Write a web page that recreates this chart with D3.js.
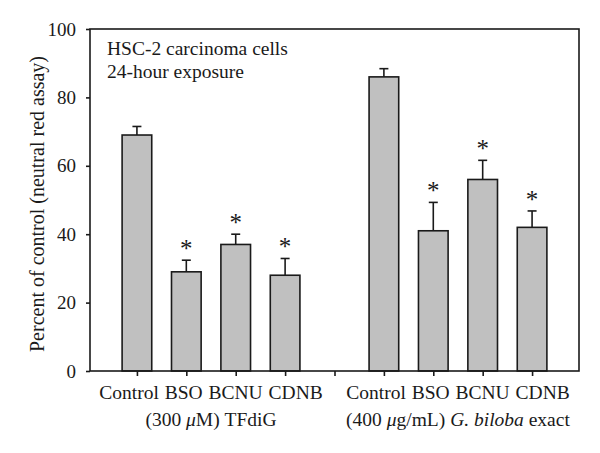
<!DOCTYPE html>
<html lang="en">
    <head>
        <meta charset="UTF-8">
        <title>Neutral red assay</title>
        <script type="text/javascript" src="https://cdnjs.cloudflare.com/ajax/libs/d3/7.8.5/d3.min.js"></script>
        <style>
            body { margin: 0; background: #fff; }
            svg text { font-family: "Liberation Serif", "DejaVu Serif", serif; fill: #1a1a1a; }
        </style>
    </head>
    <body>
        <div id="chart"></div>
        <script type="text/javascript">
            var SLOTS = ['c1', 'bso1', 'bcnu1', 'cdnb1', 'gap', 'c2', 'bso2', 'bcnu2', 'cdnb2'];
            var GROUP_LABELS = ['Control BSO BCNU CDNB', 'Control BSO BCNU CDNB'];
            var MEANS = [69, 29, 37, 28, null, 86, 41, 56, 42];
            var ERRORS = [2.5, 3.4, 3.0, 4.9, null, 2.4, 8.3, 5.6, 4.8];
            var STARRED = [false, true, true, true, false, false, true, true, true];
            var Y_TICKS = [0, 20, 40, 60, 80, 100];

            var WIDTH = 600, HEIGHT = 453;
            var margin = { top: 29, right: 21, bottom: 82, left: 90 };
            var innerW = WIDTH - margin.left - margin.right;
            var innerH = HEIGHT - margin.top - margin.bottom;

            var svg = d3.select('#chart').append('svg')
                .attr('width', WIDTH)
                .attr('height', HEIGHT);

            var g = svg.append('g')
                .attr('transform', 'translate(' + margin.left + ',' + margin.top + ')');

            var x = d3.scalePoint()
                .domain(SLOTS)
                .range([0, innerW])
                .padding(0.95);

            var y = d3.scaleLinear()
                .domain([0, 100])
                .range([innerH, 0]);

            var barW = x.step() * 0.6;

            var rows = SLOTS.map(function (k, i) {
                return { key: k, mean: MEANS[i], err: ERRORS[i], star: STARRED[i] };
            }).filter(function (d) { return d.mean !== null; });

            // error bars (drawn first, bar covers the lower part)
            var eb = g.selectAll('.err').data(rows).enter().append('g').attr('class', 'err');
            eb.append('line')
                .attr('x1', function (d) { return x(d.key); })
                .attr('x2', function (d) { return x(d.key); })
                .attr('y1', function (d) { return y(d.mean); })
                .attr('y2', function (d) { return y(d.mean + d.err); })
                .attr('stroke', '#1a1a1a').attr('stroke-width', 1.6);
            eb.append('line')
                .attr('x1', function (d) { return x(d.key) - 4.5; })
                .attr('x2', function (d) { return x(d.key) + 4.5; })
                .attr('y1', function (d) { return y(d.mean + d.err); })
                .attr('y2', function (d) { return y(d.mean + d.err); })
                .attr('stroke', '#1a1a1a').attr('stroke-width', 1.6);

            // bars
            g.selectAll('.bar').data(rows).enter().append('rect')
                .attr('class', 'bar')
                .attr('x', function (d) { return x(d.key) - barW / 2; })
                .attr('y', function (d) { return y(d.mean); })
                .attr('width', barW)
                .attr('height', function (d) { return innerH - y(d.mean); })
                .attr('fill', '#c0c0c0')
                .attr('stroke', '#1a1a1a')
                .attr('stroke-width', 1.6);

            // significance stars
            g.selectAll('.star').data(rows.filter(function (d) { return d.star; })).enter().append('text')
                .attr('class', 'star')
                .attr('x', function (d) { return x(d.key); })
                .attr('y', function (d) { return y(d.mean + d.err) - 3; })
                .attr('text-anchor', 'middle')
                .style('font-size', '25px')
                .text('*');

            // frame
            g.append('rect')
                .attr('width', innerW).attr('height', innerH)
                .attr('fill', 'none')
                .attr('stroke', '#1a1a1a')
                .attr('stroke-width', 1.6);

            // y axis
            var yAxis = g.append('g')
                .call(d3.axisLeft(y).tickValues(Y_TICKS).tickSize(4).tickPadding(10));
            yAxis.select('.domain').remove();
            yAxis.selectAll('line').attr('stroke', '#1a1a1a').attr('stroke-width', 1.6);
            yAxis.selectAll('text')
                .style('font-size', '19px')
                .attr('fill', '#1a1a1a');

            // x axis: tick marks only, labels set as one line per group
            var xAxis = g.append('g')
                .attr('transform', 'translate(0,' + innerH + ')')
                .call(d3.axisBottom(x).tickSize(5).tickFormat(''));
            xAxis.select('.domain').remove();
            xAxis.selectAll('line').attr('stroke', '#1a1a1a').attr('stroke-width', 1.6);

            var groupCenters = [(x('bso1') + x('bcnu1')) / 2, (x('bso2') + x('bcnu2')) / 2];

            g.selectAll('.glabel').data(GROUP_LABELS).enter().append('text')
                .attr('class', 'glabel')
                .attr('x', function (d, i) { return groupCenters[i]; })
                .attr('y', innerH + 28)
                .attr('text-anchor', 'middle')
                .style('font-size', '19.5px')
                .style('word-spacing', '1px')
                .text(function (d) { return d; });

            // group captions
            var cap1 = g.append('text')
                .attr('x', groupCenters[0])
                .attr('y', innerH + 55)
                .attr('text-anchor', 'middle')
                .style('font-size', '19.5px');
            cap1.append('tspan').text('(300 ');
            cap1.append('tspan').style('font-style', 'italic').text('\u03bc');
            cap1.append('tspan').text('M) TFdiG');

            var cap2 = g.append('text')
                .attr('x', groupCenters[1])
                .attr('y', innerH + 55)
                .attr('text-anchor', 'middle')
                .style('font-size', '19.5px');
            cap2.append('tspan').text('(400 ');
            cap2.append('tspan').style('font-style', 'italic').text('\u03bc');
            cap2.append('tspan').text('g/mL) ');
            cap2.append('tspan').style('font-style', 'italic').text('G. biloba');
            cap2.append('tspan').text(' exact');

            // annotation
            g.append('text')
                .attr('x', 17).attr('y', 26)
                .style('font-size', '19.5px')
                .text('HSC-2 carcinoma cells');
            g.append('text')
                .attr('x', 17).attr('y', 49)
                .style('font-size', '19.5px')
                .text('24-hour exposure');

            // y title
            svg.append('text')
                .attr('transform', 'translate(44,' + (margin.top + innerH / 2 + 4) + ') rotate(-90)')
                .attr('text-anchor', 'middle')
                .style('font-size', '20px')
                .text('Percent of control (neutral red assay)');
        </script>
    </body>
</html>
